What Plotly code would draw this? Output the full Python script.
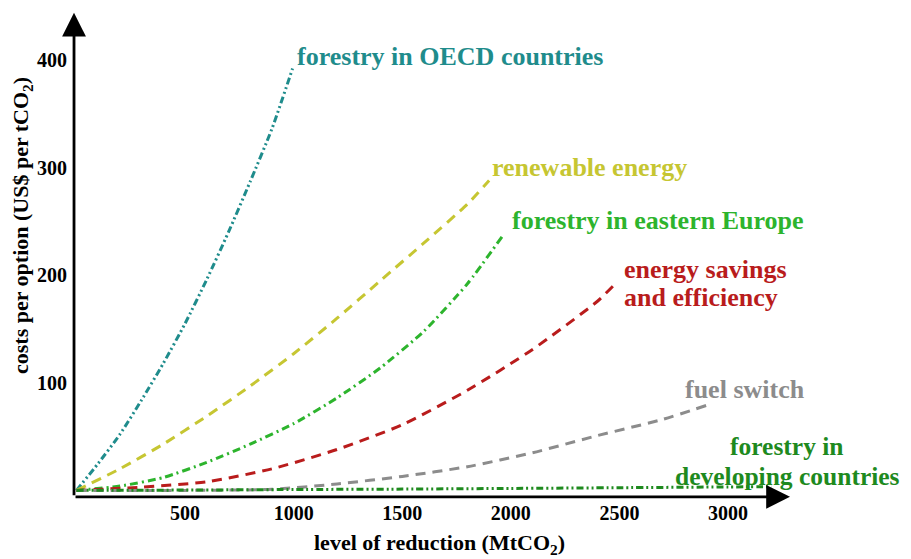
import plotly.graph_objects as go

# ---- data ----
oecd_x = [0, 100, 200, 300, 400, 500, 600, 700, 800, 900, 995]
oecd_y = [0, 25, 52, 84, 118, 155, 196, 240, 287, 336, 392]

renew_x = [0, 200, 400, 600, 800, 1000, 1200, 1400, 1600, 1800, 1900]
renew_y = [0, 20, 43, 69, 97, 127, 160, 195, 230, 266, 288]

east_x = [0, 200, 400, 600, 800, 1000, 1200, 1400, 1600, 1800, 1960]
east_y = [0, 4, 12, 26, 43, 62, 86, 114, 148, 192, 236]

save_x = [0, 300, 600, 900, 1200, 1500, 1800, 2100, 2400, 2480]
save_y = [0, 3, 8, 20, 38, 61, 93, 131, 176, 192]

fuel_x = [0, 500, 900, 1200, 1500, 1800, 2100, 2400, 2700, 2900]
fuel_y = [0, 0, 1, 6, 13, 22, 35, 51, 66, 79]

dev_x = [0, 500, 1000, 1500, 2000, 2500, 3000, 3200]
dev_y = [0, 0.3, 0.8, 1.2, 1.8, 2.5, 3.2, 3.5]

x_ticks = [500, 1000, 1500, 2000, 2500, 3000]
y_ticks = [100, 200, 300, 400]

FONT = "Liberation Serif"

series = [
    (oecd_x, oecd_y, "#1f8c8c", "7px,3px,2px,3px,2px,3px", "forestry in OECD countries"),
    (renew_x, renew_y, "#c6c632", "10px,7px", "renewable energy"),
    (east_x, east_y, "#2db42d", "8px,4px,2px,4px", "forestry in eastern Europe"),
    (save_x, save_y, "#b91c1c", "10px,7px", "energy savings and efficiency"),
    (fuel_x, fuel_y, "#8c8c8c", "10px,7px", "fuel switch"),
    (dev_x, dev_y, "#1e8a1e", "7px,3px,2px,3px,2px,3px", "forestry in developing countries"),
]

fig = go.Figure()
for xs, ys, col, dash, name in series:
    fig.add_trace(go.Scatter(x=xs, y=ys, mode="lines", name=name,
                             line=dict(color=col, width=3, dash=dash, shape="spline", smoothing=0.6),
                             showlegend=False, hoverinfo="skip"))

# curve labels (one annotation per text line)
labels = [
    (1006, 403, "forestry in OECD countries", "#1f8c8c", "left", 26),
    (1904, 300, "renewable energy", "#c6c632", "left", 26),
    (1996, 251, "forestry in eastern Europe", "#2db42d", "left", 26),
    (2512, 205, "energy savings", "#b91c1c", "left", 26),
    (2512, 179, "and efficiency", "#b91c1c", "left", 26),
    (2793, 94, "fuel switch", "#8c8c8c", "left", 26),
    (3272, 40.5, "forestry in", "#1e8a1e", "center", 25.5),
    (3272, 12.7, "developing countries", "#1e8a1e", "center", 25.5),
]
for x, y, t, c, xa, fs in labels:
    fig.add_annotation(x=x, y=y, xref="x", yref="y", text="<b>" + t + "</b>", showarrow=False,
                       xanchor=xa, yanchor="middle",
                       font=dict(family=FONT, size=fs, color=c))

# axis arrows
fig.add_annotation(x=3285, y=-6, ax=-11, ay=-6, xref="x", yref="y", axref="x", ayref="y",
                   showarrow=True, arrowhead=2, arrowsize=1.7, arrowwidth=2.8, arrowcolor="black", text="")
fig.add_annotation(x=-11, y=444, ax=-11, ay=-6, xref="x", yref="y", axref="x", ayref="y",
                   showarrow=True, arrowhead=2, arrowsize=1.7, arrowwidth=2.8, arrowcolor="black", text="")

# axis titles
fig.add_annotation(x=0.452, y=-0.0916, xref="paper", yref="paper",
                   text="<b>level of reduction (MtCO<sub>2</sub>)</b>", showarrow=False,
                   xanchor="center", yanchor="middle", font=dict(family=FONT, size=22, color="black"))
fig.add_annotation(x=-0.0559, y=0.558, xref="paper", yref="paper",
                   text="<b>costs per option (US$ per tCO<sub>2</sub>)</b>", showarrow=False, textangle=-90,
                   xanchor="center", yanchor="middle", font=dict(family=FONT, size=22, color="black"))

fig.update_layout(
    width=903, height=551,
    margin=dict(l=60, r=20, t=0, b=60),
    paper_bgcolor="white", plot_bgcolor="white",
    xaxis=dict(range=[-38.7, 3750], tickvals=x_ticks, ticktext=["<b>%d</b>" % v for v in x_ticks],
               showgrid=False, zeroline=False, showline=False, ticks="",
               tickfont=dict(family=FONT, size=20, color="black")),
    yaxis=dict(range=[-8, 448.3], tickvals=y_ticks, ticktext=["<b>%d</b>" % v for v in y_ticks],
               showgrid=False, zeroline=False, showline=False, ticks="",
               tickfont=dict(family=FONT, size=20, color="black")),
)

fig.write_html("out.html")
